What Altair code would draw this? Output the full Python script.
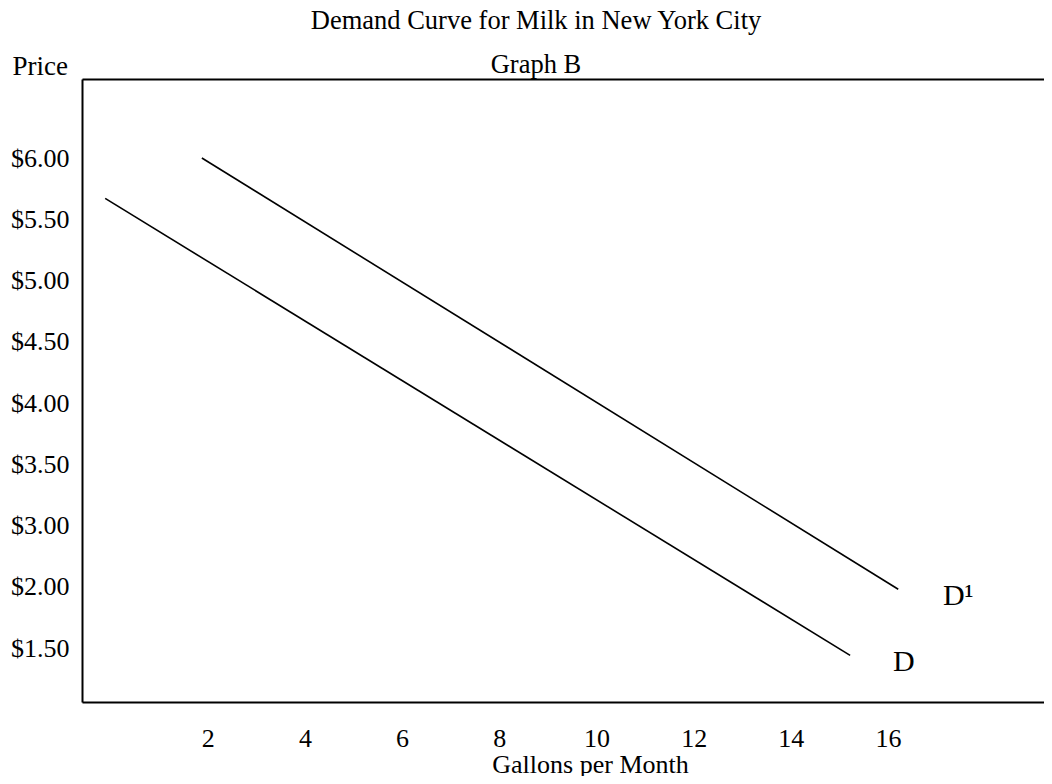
import altair as alt
import pandas as pd

# Demand curves (quantity in gallons per month, price in dollars)
curve_names = ["D", "D", "D1", "D1"]
quantities = [-0.11, 15.22, 1.88, 16.21]
prices = [5.67, 1.44, 6.00, 1.98]

# Curve labels
label_texts = ["D", "D\u00b9"]
label_q = [16.10, 17.13]
label_p = [1.31, 1.85]

# Axis ticks
price_ticks = [6.00, 5.50, 5.00, 4.50, 4.00, 3.50, 3.00, 2.00, 1.50]
quantity_ticks = [2, 4, 6, 8, 10, 12, 14, 16]

FONT = "Liberation Serif"
W, H = 962, 623

lines_df = pd.DataFrame({"curve": curve_names, "q": quantities, "p": prices})
labels_df = pd.DataFrame({"label": label_texts, "q": label_q, "p": label_p})

xscale = alt.Scale(domain=[-0.587, 19.21], nice=False, zero=False)
# evenly spaced price labels (the $2.50 step is skipped in the original)
yscale = alt.Scale(domain=[1.059, 1.5, 2.0, 3.0, 6.0, 6.645],
                   range=[623, 569, 507.75, 446.5, 79, 0], nice=False, zero=False)

x_bottom = alt.X("q:Q", scale=xscale,
                 axis=alt.Axis(values=quantity_ticks, format="d", grid=False, ticks=False, tickSize=0,
                               domain=True, domainColor="black", domainWidth=2,
                               labelFont=FONT, labelFontSize=26, labelColor="black",
                               labelBaseline="alphabetic", labelPadding=44,
                               title="Gallons per Month", titleFont=FONT, titleFontSize=26,
                               titleFontWeight="normal", titleColor="black",
                               titleAlign="center", titleBaseline="alphabetic",
                               titleX=508, titleY=70))
y_axis = alt.Axis(values=price_ticks, format="$.2f", grid=False, ticks=False, tickSize=0,
                  domain=True, domainColor="black", domainWidth=2,
                  labelFont=FONT, labelFontSize=26, labelColor="black",
                  labelPadding=13, labelBaseline="middle", labelOverlap=False,
                  title="Price", titleFont=FONT, titleFontSize=27, labelBound=False,
                  titleFontWeight="normal", titleColor="black", titleAngle=0,
                  titleAlign="left", titleBaseline="alphabetic",
                  titleX=-70, titleY=-5)
y_left = alt.Y("p:Q", scale=yscale, axis=y_axis)

lines = alt.Chart(lines_df).mark_line(color="black", strokeWidth=1.6).encode(
    x=x_bottom, y=y_left, detail="curve:N")

x_top = alt.X("q:Q", scale=xscale,
              axis=alt.Axis(orient="top", labels=False, ticks=False, tickSize=0, grid=False,
                            domain=True, domainColor="black", domainWidth=2, title=None))

labels = alt.Chart(labels_df).mark_text(font=FONT, fontSize=30, color="black",
                                        align="left", baseline="alphabetic").encode(
    x=x_top, y=alt.Y("p:Q", scale=yscale, axis=y_axis), text="label:N")

chart = alt.layer(lines, labels).resolve_axis(x="independent").properties(
    width=W, height=H,
    title=alt.TitleParams(text="Demand Curve for Milk in New York City", subtitle="Graph B",
                          font=FONT, fontSize=26.5, fontWeight="normal", color="black",
                          subtitleFont=FONT, subtitleFontSize=26.5, subtitleColor="black",
                          subtitlePadding=17, anchor="middle", dx=-27, offset=-26),
    autosize=alt.AutoSizeParams(type="none"),
    padding={"left": 74, "top": 71, "right": 0, "bottom": 74},
).configure_view(stroke=None).configure(background="white")

chart.save("out.html", embed_options={"renderer": "svg", "actions": False})
